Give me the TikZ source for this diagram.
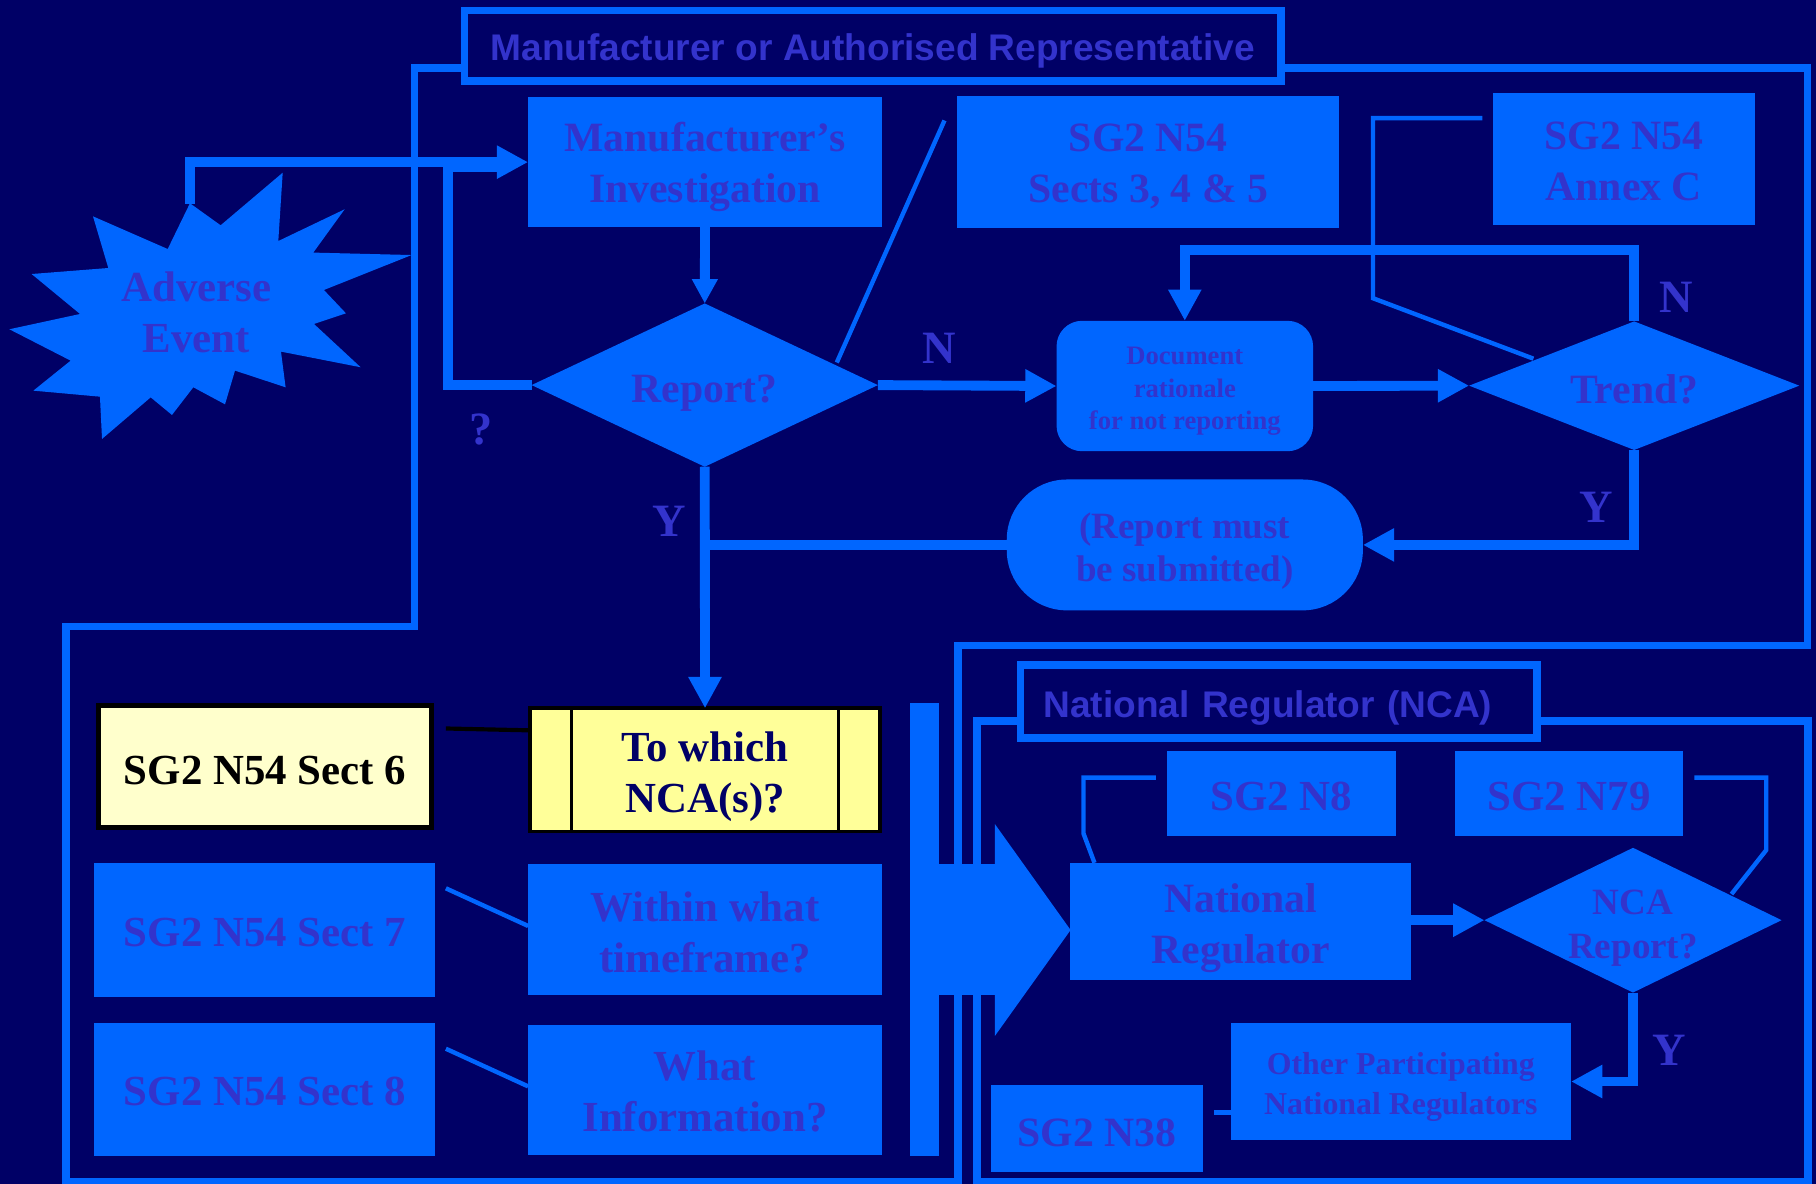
\documentclass[tikz,border=0pt]{standalone}
\usepackage{fontspec}
\setmainfont{Liberation Serif}
\newfontfamily\hdrfont{Liberation Sans}
\usetikzlibrary{shapes.geometric,arrows.meta,calc}
\definecolor{navy}{RGB}{0,0,102}
\definecolor{bb}{RGB}{0,102,255}
\definecolor{tc}{RGB}{51,51,204}
\definecolor{ylw}{RGB}{255,255,153}
\definecolor{ylwl}{RGB}{255,255,204}
\newcommand{\fsz}[2]{\fontsize{#1}{#2}\selectfont\bfseries}
\newcommand{\tx}[2][5pt]{\raisebox{-#1}[\height][\depth]{\begin{tabular}{@{}c@{}}#2\end{tabular}}}
\newcommand{\dtx}[2][5pt]{\makebox[0pt]{\tx[#1]{#2}}}
\begin{document}
\begin{tikzpicture}[x=1pt,y=-1pt,
 bluebox/.style={rectangle,fill=bb,draw=none,text=tc,inner sep=0pt,outer sep=0pt,font=\fsz{36}{44}},
 bluediam/.style={diamond,fill=bb,draw=none,text=tc,inner sep=0pt,outer sep=0pt,font=\fsz{36}{44}},
 hdr/.style={rectangle,draw=bb,line width=6.5pt,fill=navy,text=tc,inner sep=0pt,outer sep=0pt,font=\hdrfont\fsz{32}{38}},
 framel/.style={draw=bb,line width=6.5pt,line join=miter},
 conn/.style={draw=bb,line width=8.5pt},
 thinl/.style={draw=bb,line width=3.8pt},
 tipbig/.style={-{Triangle[length=27pt,width=27pt]}},
 tipsmall/.style={-{Triangle[length=21pt,width=21pt]}},
 lbl/.style={text=tc,font=\fsz{40}{44},inner sep=0pt},
]
\useasboundingbox (0,0) rectangle (1568,1022.3);
\fill[navy] (0,0) rectangle (1568,1022.3);

% headers
\node[hdr,minimum width=705pt,minimum height=61pt] (hdr1) at (753.5,39.5) {\tx[4.8pt]{Manufacturer or Authorised Representative}};
\node[hdr,minimum width=446pt,minimum height=63pt,text width=406pt,align=left,inner xsep=20pt] (hdr2) at (1104,605.5) {\tx[6.5pt]{National Regulator (NCA)}};

% frames
\draw[framel] (hdr1.west |- 0,58.5) -- (358,58.5) -- (358,541) -- (57,541) -- (57,1020.5) -- (827,1020.5) -- (827,557.5) -- (1560.5,557.5) -- (1560.5,58.5) -- (hdr1.east |- 0,58.5);
\draw[framel] (hdr2.west |- 0,622.5) -- (843.5,622.5) -- (843.5,1020.5) -- (1561,1020.5) -- (1561,622.5) -- (hdr2.east |- 0,622.5);

% big block arrow
\fill[bb] (786,607) rectangle (811,998.5);
\fill[bb] (810,746) -- (859,746) -- (859,711.5) -- (924.4,803) -- (859,894.5) -- (859,859) -- (810,859) -- cycle;

% starburst
\fill[bb] (164.0,175.5) -- (190.5,194.5) -- (244.1,149.1) -- (240.3,208.1) -- (297.6,180.7) -- (270.5,218.1) -- (355.4,220.2) -- (279.7,250.4) -- (298.7,270.5) -- (271.1,279.7) -- (311.4,317.1) -- (242.6,303.6) -- (246.6,334.4) -- (202.9,320.0) -- (194.3,349.1) -- (166.9,334.4) -- (148.5,358.3) -- (130.1,343.1) -- (88.1,379.0) -- (86.3,342.5) -- (28.8,337.3) -- (61.0,311.4) -- (8.1,284.3) -- (69.1,271.1) -- (27.3,236.6) -- (93.5,231.4) -- (80.3,186.8) -- (144.8,215.0) -- cycle;
\node[text=tc,inner sep=0pt,font=\fsz{37}{44}] (star) at (169.5,269) {\tx[4.7pt]{Adverse\\Event}};
\coordinate (startop) at (164,176);

% upper boxes
\node[bluebox,minimum width=305.5pt,minimum height=112pt] (inv) at (608.75,140) {\tx[4.2pt]{Manufacturer’s\\Investigation}};
\node[bluebox,minimum width=330pt,minimum height=114pt] (sects) at (991.5,140) {\tx[4.2pt]{SG2 N54\\Sects 3, 4 \& 5}};
\node[bluebox,minimum width=226pt,minimum height=114.6pt] (annex) at (1402,137.3) {\tx[4.7pt]{SG2 N54\\Annex C}};
\node[bluediam,minimum width=299pt,minimum height=141pt] (rep) at (608.5,332.5) {\dtx[6.5pt]{Report?}};
\node[bluebox,rounded corners=22pt,minimum width=221.5pt,minimum height=112.6pt,font=\fsz{23}{28}] (doc) at (1023,333.3) {\tx[3.9pt]{Document\\rationale\\for not reporting}};
\node[bluediam,minimum width=285pt,minimum height=111pt] (trend) at (1411,333) {\dtx[6.2pt]{Trend?}};
\node[bluebox,rounded corners=52pt,minimum width=307.5pt,minimum height=113pt,font=\fsz{32}{37}] (must) at (1023,470.5) {\tx[5.6pt]{(Report must\\be submitted)}};

% lower left boxes
\node[rectangle,fill=ylwl,draw=black,line width=4.5pt,inner sep=0pt,outer sep=0pt,minimum width=288pt,minimum height=105.5pt,font=\fsz{37}{44},text=black] (sect6) at (228.75,662) {\tx[6.5pt]{SG2 N54 Sect 6}};
\node[rectangle,fill=ylw,draw=black,line width=3pt,inner sep=0pt,outer sep=0pt,minimum width=302.5pt,minimum height=106.5pt,font=\fsz{37}{44},text=navy] (nca) at (608.75,664.75) {\tx[5.7pt]{To which\\NCA(s)?}};
\draw[black,line width=2.5pt] ([xshift=36pt]nca.north west) -- ([xshift=36pt]nca.south west);
\draw[black,line width=2.5pt] ([xshift=-36pt]nca.north east) -- ([xshift=-36pt]nca.south east);
\node[bluebox,minimum width=294.5pt,minimum height=115.5pt,font=\fsz{37}{44}] (sect7) at (228.75,802.75) {\tx[5.7pt]{SG2 N54 Sect 7}};
\node[bluebox,minimum width=305.5pt,minimum height=112.6pt,font=\fsz{37}{44}] (within) at (608.75,802.7) {\tx[6.5pt]{Within what\\timeframe?}};
\node[bluebox,minimum width=294.5pt,minimum height=114.4pt,font=\fsz{37}{44}] (sect8) at (228.75,940.8) {\tx[5pt]{SG2 N54 Sect 8}};
\node[bluebox,minimum width=305.5pt,minimum height=112pt,font=\fsz{37}{44}] (what) at (608.75,941) {\tx[5.5pt]{What\\Information?}};

% NCA region
\node[bluebox,minimum width=197.5pt,minimum height=73.4pt,font=\fsz{37}{44}] (n8) at (1106.25,685.3) {\tx[5.7pt]{SG2 N8}};
\node[bluebox,minimum width=197.5pt,minimum height=73.4pt,font=\fsz{37}{44}] (n79) at (1354.75,685.3) {\tx[5.7pt]{SG2 N79}};
\node[bluebox,minimum width=294.5pt,minimum height=101pt] (natreg) at (1071.25,795.5) {\tx[5.2pt]{National\\Regulator}};
\node[bluediam,minimum width=256.5pt,minimum height=125pt,font=\fsz{32}{38}] (ncarep) at (1410,794.5) {\dtx[6.4pt]{NCA\\Report?}};
\node[bluebox,minimum width=294pt,minimum height=100.4pt,font=\fsz{27.5}{34.5}] (other) at (1209.5,933.8) {\tx[4.1pt]{Other Participating\\National Regulators}};
\node[bluebox,minimum width=183.5pt,minimum height=75pt,font=\fsz{36}{44}] (n38) at (947.25,974.5) {\tx[6.7pt]{SG2 N38}};

% connectors
\draw[conn,tipbig] (startop) -- (164,140) -- (inv.west |- 0,140);
\draw[conn] (rep.west) -- (387,332.5) -- (387,144) -- (430,144);
\draw[conn,tipsmall] (inv.south) -- (rep.north);
\draw[conn,tipbig] (rep.east) -- (doc.west);
\draw[conn,tipbig] (doc.east) -- (trend.west);
\draw[conn,tipbig] (trend.north) -- (trend.north |- 0,216) -| (doc.north);
\draw[conn,tipbig] (trend.south) |- (must.east);
\draw[conn] (must.west) -- (rep.south |- must.west);
\draw[conn,tipbig] (rep.south) -- (nca.north);
\draw[conn,tipbig] (natreg.east |- ncarep.west) -- (ncarep.west);
\draw[conn,tipbig] (ncarep.south) |- (other.east);

% thin connectors
\coordinate (repne) at (722.5,313);
\coordinate (sectsw) at (815.5,104);
\draw[thinl] (repne) -- (sectsw);
\coordinate (annexw) at (1280,102);
\coordinate (trendnw) at (1324,309.7);
\draw[thinl] (annexw) -- (1185.5,102) -- (1185.5,257.5) -- (trendnw);
\coordinate (s6e) at (385,629);
\draw[black,line width=3.6pt] (s6e) -- (nca.west |- 0,630.6);
\coordinate (s7e) at (385,767);
\coordinate (wiw) at (456,799.5);
\draw[thinl] (s7e) -- (wiw);
\coordinate (s8e) at (385,905.5);
\coordinate (whw) at (456,938);
\draw[thinl] (s8e) -- (whw);
\coordinate (n8w) at (998,671.4);
\coordinate (natn) at (945,745);
\draw[thinl] (n8w) -- (935.5,671.4) -- (935.5,719.6) -- (natn);
\coordinate (n79e) at (1463,671.4);
\coordinate (ncane) at (1495,772);
\draw[thinl] (n79e) -- (1525,671.4) -- (1525,734) -- (ncane);
\coordinate (n38e) at (1048,960.5);
\draw[thinl] (n38e) -- (other.west |- 0,960.5);

% labels
\node[lbl] (lq) at (415,371) {?};
\node[lbl] (ly1) at (577.5,450) {Y};
\node[lbl] (ln1) at (811,301) {N};
\node[lbl] (ln2) at (1447,257) {N};
\node[lbl] (ly2) at (1378,438) {Y};
\node[lbl] (ly3) at (1441.5,907) {Y};
\end{tikzpicture}
\end{document}
